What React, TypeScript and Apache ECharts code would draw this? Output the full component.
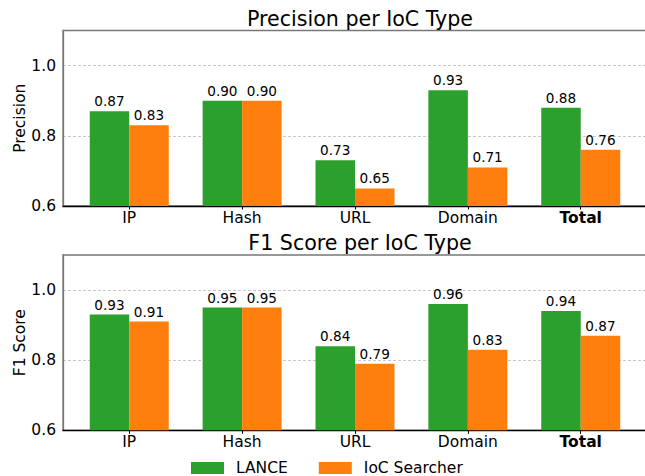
import React, { useEffect, useRef } from "react";
import * as echarts from "echarts";

const categories = ["IP", "Hash", "URL", "Domain", "Total"];
const precisionLance = [0.87, 0.9, 0.73, 0.93, 0.88];
const precisionIoc = [0.83, 0.9, 0.65, 0.71, 0.76];
const f1Lance = [0.93, 0.95, 0.84, 0.96, 0.94];
const f1Ioc = [0.91, 0.95, 0.79, 0.83, 0.87];
const yTicks = [0.6, 0.8, 1.0];
const seriesNames = ["LANCE", "IoC Searcher"];

const GREEN = "#2ca02c";
const ORANGE = "#ff7f0e";
const FONT = "DejaVu Sans";

export default function App() {
  const ref = useRef<HTMLDivElement>(null);
  useEffect(() => {
    if (!ref.current) return;
    const chart = echarts.init(ref.current, null, { renderer: "svg" });
    const xIdx = categories.map((_, i) => i);
    const mkX = (gi: number) => ({
      type: "value",
      gridIndex: gi,
      min: -0.587,
      max: 4.587,
      splitLine: { show: false },
      axisLine: { show: true, onZero: false, lineStyle: { color: "#000", width: 1.3 } },
      axisTick: { show: true, customValues: xIdx, length: 3.5, lineStyle: { color: "#000", width: 1 } },
      axisLabel: {
        customValues: xIdx,
        margin: 4,
        fontSize: 15.5,
        fontFamily: FONT,
        color: "#000",
        formatter: (v: number) => {
          const n = categories[Math.round(v)];
          return n === "Total" ? "{b|" + n + "}" : n;
        },
        rich: { b: { fontWeight: "bold", fontSize: 15.5, fontFamily: FONT, color: "#000" } },
      },
    });
    const mkY = (gi: number, name: string) => ({
      type: "value",
      gridIndex: gi,
      min: 0.6,
      max: 1.1,
      name,
      nameLocation: "middle",
      nameGap: 35,
      nameMoveOverlap: false,
      nameTextStyle: { fontSize: 15.5, fontFamily: FONT, color: "#000" },
      axisLine: { show: true, onZero: false, lineStyle: { color: "#777", width: 1.3 } },
      axisTick: { show: false, customValues: yTicks },
      axisLabel: {
        customValues: yTicks,
        margin: 7,
        fontSize: 15.5,
        fontFamily: FONT,
        color: "#000",
        formatter: (v: number) => v.toFixed(1),
      },
      splitLine: { show: true, lineStyle: { color: "#c8c8c8", width: 1, type: [3, 2] } },
    });
    const mkBar = (name: string, vals: number[], color: string, gi: number) => ({
      type: "bar",
      name,
      xAxisIndex: gi,
      yAxisIndex: gi,
      barWidth: 39.5,
      barGap: "0%",
      data: vals.map((v, i) => [i, v]),
      itemStyle: { color },
      label: {
        show: true,
        position: "top",
        distance: 3,
        fontSize: 13.6,
        fontFamily: FONT,
        color: "#000",
        formatter: (p: any) => p.value[1].toFixed(2),
      },
    });
    const gridBase = {
      left: 63,
      width: 584,
      show: true,
      borderColor: "#777",
      borderWidth: 1.3,
      backgroundColor: "transparent",
      containLabel: false,
      outerBoundsMode: "none",
    };
    chart.setOption({
      animation: false,
      backgroundColor: "#fff",
      title: [
        {
          text: "Precision per IoC Type",
          left: 355,
          top: 3,
          textAlign: "center",
          textStyle: { fontSize: 20.6, fontWeight: "normal", fontFamily: FONT, color: "#000" },
        },
        {
          text: "F1 Score per IoC Type",
          left: 355,
          top: 227,
          textAlign: "center",
          textStyle: { fontSize: 20.6, fontWeight: "normal", fontFamily: FONT, color: "#000" },
        },
      ],
      legend: {
        left: 191,
        top: 460,
        padding: 0,
        itemWidth: 33,
        itemHeight: 12,
        itemGap: 31,
        icon: "rect",
        data: seriesNames,
        textStyle: { fontSize: 15.5, fontFamily: FONT, color: "#000", padding: [0, 0, 0, 7] },
      },
      grid: [
        { ...gridBase, top: 30.5, height: 175.5 },
        { ...gridBase, top: 255, height: 175.3 },
      ],
      xAxis: [mkX(0), mkX(1)],
      yAxis: [mkY(0, "Precision"), mkY(1, "F1 Score")],
      series: [
        mkBar(seriesNames[0], precisionLance, GREEN, 0),
        mkBar(seriesNames[1], precisionIoc, ORANGE, 0),
        mkBar(seriesNames[0], f1Lance, GREEN, 1),
        mkBar(seriesNames[1], f1Ioc, ORANGE, 1),
      ],
    });
    return () => chart.dispose();
  }, []);
  return <div ref={ref} style={{ position: "fixed", left: 0, top: 0, width: 645, height: 476 }} />;
}
